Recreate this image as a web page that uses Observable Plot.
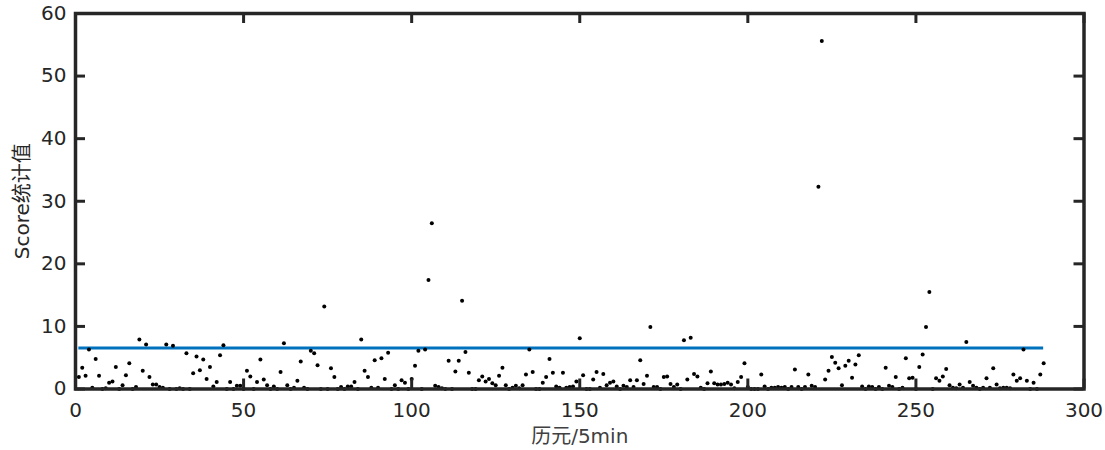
<!DOCTYPE html>
<html>
<head>
<meta charset="utf-8">
<script src="https://cdn.jsdelivr.net/npm/d3@7"></script>
<script src="https://cdn.jsdelivr.net/npm/@observablehq/plot@0.6"></script>
<style>
  html, body { margin: 0; padding: 0; background: #fff; }
  #chart { width: 1105px; height: 450px; }
</style>
</head>
<body>
<div id="chart"></div>
<script>
// Score statistic per epoch (epoch = 5 min), epochs 1..288
const scores = [
  1.9, 3.4, 2.1, 6.3, 0.2, 4.8, 2.1, 0, 0.1, 1.0,
  1.2, 3.5, 0, 0.6, 2.2, 4.1, 0, 0.3, 7.9, 2.9,
  7.1, 1.9, 0.7, 0.7, 0.3, 0.2, 7.1, 0, 6.9, 0,
  0.1, 0, 5.7, 0, 2.5, 5.2, 3.0, 4.7, 1.6, 3.5,
  0.4, 1.1, 5.4, 7.0, 0, 1.1, 0, 0.5, 0.5, 0,
  2.9, 2.0, 0, 1.1, 4.7, 1.5, 0.6, 0, 0.4, 0,
  2.7, 7.3, 0.6, 0, 0.2, 1.3, 4.4, 0.2, 0, 6.1,
  5.7, 3.8, 0, 13.2, 0, 3.3, 1.9, 0, 0.3, 0,
  0.4, 0.4, 1.1, 0, 7.9, 2.9, 1.9, 0.2, 4.6, 0.2,
  4.9, 1.6, 5.8, 0, 0.6, 0, 1.4, 1.0, 0, 1.6,
  3.7, 6.1, 0, 6.3, 17.4, 26.5, 0.5, 0.3, 0.1, 0,
  4.5, 0, 2.8, 4.5, 14.1, 5.9, 2.6, 0, 0, 1.4,
  2.0, 1.2, 1.6, 0.9, 0.6, 2.1, 3.4, 0.6, 0, 0.2,
  0.5, 0.1, 0.6, 2.3, 6.3, 2.7, 0, 0, 1.0, 1.9,
  4.8, 2.6, 0.4, 0.2, 2.6, 0.2, 0.3, 0.4, 1.2, 8.1,
  2.2, 0, 0, 1.5, 2.7, 0.2, 2.4, 0.6, 1.0, 1.2,
  0.4, 0, 0.5, 0.3, 1.4, 0.3, 1.4, 4.6, 0.8, 2.1,
  9.9, 0.3, 0.3, 0, 1.9, 2.0, 0.8, 0.3, 0.7, 0,
  7.8, 1.5, 8.2, 2.4, 2.0, 0.2, 0, 0.9, 2.8, 0.9,
  0.7, 0.7, 0.8, 1.0, 0.7, 0.1, 1.1, 1.9, 4.1, 0.3,
  0, 0, 0, 2.3, 0.4, 0, 0.2, 0.2, 0.3, 0.2,
  0.3, 0, 0.3, 3.1, 0.3, 0, 0.3, 2.3, 0.5, 0.3,
  32.3, 55.6, 1.5, 2.9, 5.1, 4.2, 3.3, 0.6, 3.7, 4.5,
  1.8, 3.9, 5.4, 0.4, 0, 0.4, 0.3, 0, 0.3, 0,
  3.4, 0.5, 0.3, 1.9, 0, 0.2, 4.9, 1.7, 1.8, 0,
  3.5, 5.5, 9.9, 15.5, 0, 1.7, 1.3, 2.0, 3.2, 0.6,
  0.2, 0.1, 0.7, 0.2, 7.5, 1.1, 0.5, 0.2, 0, 0.2,
  1.7, 0.2, 3.3, 0.7, 0.1, 0.2, 0.2, 0.1, 2.3, 1.3,
  1.7, 6.3, 1.3, 0, 1.0, 0, 2.3, 4.1
];
const threshold = 6.55;
const xTicks = [0, 50, 100, 150, 200, 250, 300];
const yTicks = [0, 10, 20, 30, 40, 50, 60];
const xLabel = "历元/5min";
const yLabel = "Score统计值";

const epochs = scores.map((_, i) => i + 1);
const points = epochs.map((e, i) => ({epoch: e, score: scores[i]}));
const thresholdLine = [{y: threshold, x1: epochs[0], x2: epochs[epochs.length - 1]}];

const W = 1105, H = 450;
const mL = 75, mR = 21.5, mT = 13, mB = 61.5;
const plotW = W - mL - mR, plotH = H - mT - mB;
const tickLen = 10;
const axisColor = "#262626";
const font = "'DejaVu Sans', 'Noto Sans CJK SC', sans-serif";

const chart = Plot.plot({
  width: W,
  height: H,
  marginLeft: mL,
  marginRight: mR,
  marginTop: mT,
  marginBottom: mB,
  style: {
    fontFamily: font,
    fontSize: "20px",
    color: axisColor,
    background: "#ffffff",
    overflow: "visible"
  },
  x: {domain: [0, 300]},
  y: {domain: [0, 60]},
  marks: [
    Plot.ruleY(thresholdLine, {y: "y", x1: "x1", x2: "x2", stroke: "#0072BD", strokeWidth: 3}),
    Plot.dot(points, {x: "epoch", y: "score", r: 2, fill: "#000000", stroke: null}),
    Plot.ruleX(xTicks, {insetTop: plotH - tickLen, stroke: axisColor, strokeWidth: 3}),
    Plot.ruleX(xTicks, {insetBottom: plotH - tickLen, stroke: axisColor, strokeWidth: 3}),
    Plot.ruleY(yTicks, {insetRight: plotW - tickLen, stroke: axisColor, strokeWidth: 3}),
    Plot.ruleY(yTicks, {insetLeft: plotW - tickLen, stroke: axisColor, strokeWidth: 3}),
    Plot.frame({stroke: axisColor, strokeWidth: 3.5}),
    Plot.axisX(xTicks, {tickSize: 0, tickPadding: 14, label: null, fill: axisColor, fontSize: 20}),
    Plot.axisY(yTicks, {tickSize: 0, tickPadding: 9, label: null, fill: axisColor, fontSize: 20}),
    Plot.text([xLabel], {frameAnchor: "bottom", dy: 54, fill: "#404040", fontSize: 20, textAnchor: "middle"}),
    Plot.text([yLabel], {frameAnchor: "left", dx: -53, rotate: -90, fill: axisColor, fontSize: 20, textAnchor: "middle"})
  ]
});
document.getElementById("chart").appendChild(chart);
</script>
</body>
</html>
